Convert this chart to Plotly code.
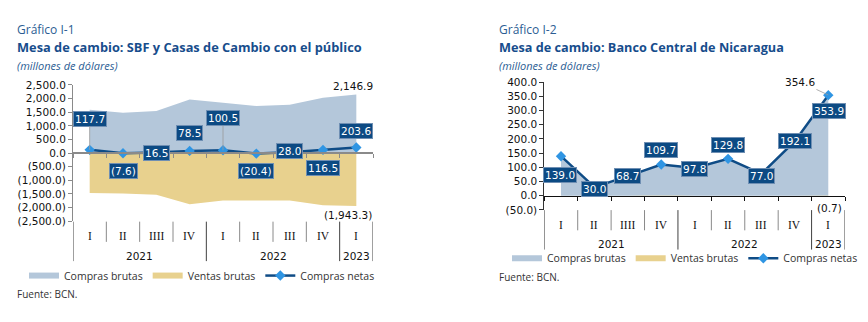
import plotly.graph_objects as go

# ---------------- data ----------------
quarters = ["I", "II", "IIII", "IV", "I", "II", "III", "IV", "I"]
years = ["2021", "2021", "2021", "2021", "2022", "2022", "2022", "2022", "2023"]

left_compras = [1585.0, 1478.0, 1545.0, 1962.0, 1846.0, 1725.0, 1770.0, 2030.0, 2146.9]
left_ventas = [-1467.3, -1485.6, -1528.5, -1883.5, -1745.5, -1745.4, -1742.0, -1913.5, -1943.3]
left_netas = [117.7, -7.6, 16.5, 78.5, 100.5, -20.4, 28.0, 116.5, 203.6]

right_compras = [139.0, 30.0, 68.7, 111.7, 97.8, 129.8, 77.0, 192.1, 354.6]
right_ventas = [0.0, 0.0, 0.0, -2.0, 0.0, 0.0, 0.0, 0.0, -0.7]
right_netas = [139.0, 30.0, 68.7, 109.7, 97.8, 129.8, 77.0, 192.1, 353.9]

left_yticks = [2500, 2000, 1500, 1000, 500, 0, -500, -1000, -1500, -2000, -2500]
right_yticks = [400, 350, 300, 250, 200, 150, 100, 50, 0, -50]

# ---------------- styling / layout constants ----------------
W, H = 868, 322
C_COMPRAS = "#b4c7da"
C_VENTAS = "#e8d18e"
C_LINE = "#0f4c86"
C_MARK = "#2f95e3"
C_BOX = "#0c4a83"
C_TITLE = "#174d8c"
NUM_FONT = "DejaVu Sans"
TXT_FONT = "Open Sans"

# label offsets in px (dx, dy up-positive) and leader-line flags
left_lbl = [(0, 31, True), (0, -18, False), (0, 0, False), (0, 18, False), (0, 32, True),
            (0, -17, False), (0, 1, False), (0, -18, False), (0, 17, False)]
right_lbl = [(-1, -19, False), (0, -2, False), (0, 0, False), (0, 15, False), (0, -1, False),
             (0, 14, False), (0, -2, False), (0, 0, False), (1, -16, False)]


def py(pix):
    return 1 - pix / H


def fmt(v, dec=1):
    s = f"{abs(v):,.{dec}f}"
    return f"({s})" if v < 0 else s


xpos = list(range(len(quarters)))
bounds = [i - 0.5 for i in range(len(quarters) + 1)]

fig = go.Figure()

panels = [
    dict(xa="x", ya="y", comp=left_compras, vent=left_ventas, net=left_netas, leg="legend"),
    dict(xa="x2", ya="y2", comp=right_compras, vent=right_ventas, net=right_netas, leg="legend2"),
]
for p in panels:
    fig.add_trace(go.Scatter(x=xpos, y=p["comp"], name="Compras brutas", mode="none",
                             fill="tozeroy", fillcolor=C_COMPRAS, xaxis=p["xa"], yaxis=p["ya"],
                             legend=p["leg"], hoverinfo="skip"))
    fig.add_trace(go.Scatter(x=xpos, y=p["vent"], name="Ventas brutas", mode="none",
                             fill="tozeroy", fillcolor=C_VENTAS, xaxis=p["xa"], yaxis=p["ya"],
                             legend=p["leg"], hoverinfo="skip"))
    fig.add_trace(go.Scatter(x=xpos, y=p["net"], name="Compras netas", mode="lines+markers",
                             line=dict(color=C_LINE, width=2.5),
                             marker=dict(symbol="diamond", size=8, color=C_MARK),
                             xaxis=p["xa"], yaxis=p["ya"], legend=p["leg"]))

annotations = []


def data_labels(xref, yref, vals, offs):
    for i, (v, (dx, dy, lead)) in enumerate(zip(vals, offs)):
        a = dict(x=xpos[i], y=v, xref=xref, yref=yref, text=fmt(v),
                 font=dict(family=NUM_FONT, size=10.5, color="white"),
                 bgcolor=C_BOX, bordercolor="#6f8fb3", borderwidth=1, borderpad=1)
        if lead:
            a.update(showarrow=True, arrowhead=0, arrowwidth=0.8, arrowcolor="#9a9a9a",
                     ax=dx, ay=-dy)
        else:
            a.update(showarrow=False, xshift=dx, yshift=dy)
        annotations.append(a)


data_labels("x", "y", left_netas, left_lbl)
data_labels("x2", "y2", right_netas, right_lbl)

plain = dict(font=dict(family=NUM_FONT, size=10.5, color="#111"))
annotations += [
    dict(x=xpos[-1], y=left_compras[-1], xref="x", yref="y", text=fmt(left_compras[-1]),
         showarrow=False, xshift=-3, yshift=9, **plain),
    dict(x=xpos[-1], y=left_ventas[-1], xref="x", yref="y", text=fmt(left_ventas[-1]),
         showarrow=False, xshift=-8, yshift=-9, **plain),
    dict(x=xpos[-1], y=right_compras[-1], xref="x2", yref="y2", text=fmt(right_compras[-1]),
         showarrow=True, arrowhead=0, arrowwidth=0.8, arrowcolor="#9a9a9a", ax=-28, ay=-13,
         **plain),
    dict(x=xpos[-1], y=right_ventas[-1], xref="x2", yref="y2", text=fmt(right_ventas[-1]),
         showarrow=False, xshift=1, yshift=-12, **plain),
]

shapes = []


def category_axis(xref, top, qy, yy, qbot, ybot):
    for i, q in enumerate(quarters):
        annotations.append(dict(x=xpos[i], y=py(qy), xref=xref, yref="paper", text=q,
                                showarrow=False, yanchor="middle",
                                font=dict(family="Liberation Serif", size=11.5, color="#111")))
    groups = {}
    for i, yv in enumerate(years):
        groups.setdefault(yv, []).append(xpos[i])
    for yv, xs in groups.items():
        annotations.append(dict(x=sum(xs) / len(xs), y=py(yy), xref=xref, yref="paper",
                                text=yv, showarrow=False, yanchor="middle",
                                font=dict(family=NUM_FONT, size=10.5, color="#111")))
    for k, b in enumerate(bounds):
        is_year = k == 0 or k == len(quarters) or years[k - 1] != years[k]
        shapes.append(dict(type="line", xref=xref, yref="paper", x0=b, x1=b,
                           y0=py(top), y1=py(ybot if is_year else qbot),
                           line=dict(color="#404040" if is_year else "#8a8a8a", width=1)))


category_axis("x", 224, 239, 260, 245, 265)
category_axis("x2", 212, 227, 247, 233, 253)


def title_block(x_px, num, title, tsize, fuente_y):
    annotations.extend([
        dict(x=x_px / W, y=py(24.5), xref="paper", yref="paper", text=num, showarrow=False,
             xanchor="left", yanchor="middle",
             font=dict(family=TXT_FONT, size=12, color="#2b5d93")),
        dict(x=x_px / W, y=py(42.5), xref="paper", yref="paper", text=title,
             showarrow=False, xanchor="left", yanchor="middle",
             font=dict(family=TXT_FONT, size=tsize, color=C_TITLE, weight=700)),
        dict(x=x_px / W, y=py(62), xref="paper", yref="paper",
             text="<i>(millones de dólares)</i>", showarrow=False, xanchor="left",
             yanchor="middle", font=dict(family=TXT_FONT, size=11, color="#2b5d93")),
        dict(x=x_px / W, y=py(fuente_y), xref="paper", yref="paper", text="Fuente: BCN.",
             showarrow=False, xanchor="left", yanchor="middle",
             font=dict(family=TXT_FONT, size=10, color="#333")),
    ])


title_block(15, "Gráfico I-1", "Mesa de cambio: SBF y Casas de Cambio con el público", 12.8, 299)
title_block(497, "Gráfico I-2", "Mesa de cambio: Banco Central de Nicaragua", 12.7, 281)

tickfont = dict(family=NUM_FONT, size=10.5, color="#111")


def xaxis(x0, x1, zero_pos, lcolor, lwidth):
    return dict(domain=[x0 / W, x1 / W], range=[-0.5, len(quarters) - 0.5], anchor="free",
                position=zero_pos, tickvals=bounds, ticks="outside", ticklen=4,
                tickcolor=lcolor, tickwidth=1, showticklabels=False, showline=True,
                linecolor=lcolor, linewidth=lwidth, showgrid=False, zeroline=False,
                fixedrange=True)


def yaxis(top_px, bot_px, rng, ticks, anchor, lcolor):
    return dict(domain=[py(bot_px), py(top_px)], range=rng, tickvals=ticks,
                ticktext=[fmt(t) for t in ticks], ticks="outside", ticklen=4,
                tickcolor=lcolor, showline=True, linecolor=lcolor, linewidth=1,
                showgrid=False, zeroline=False, tickfont=tickfont, anchor=anchor,
                fixedrange=True)


l_top, l_bot = 82, 223.5
r_top, r_bot = 79, 211.8
l_zero = py(l_top + (l_bot - l_top) * 2500 / 5000)
r_zero = py(r_top + (r_bot - r_top) * 400 / 450)

legend_common = dict(orientation="h", yanchor="middle", xanchor="left",
                     font=dict(family=TXT_FONT, size=10.5, color="#333"),
                     bgcolor="rgba(0,0,0,0)", itemclick=False, itemdoubleclick=False,
                     tracegroupgap=0)

fig.update_layout(
    width=W, height=H, margin=dict(l=0, r=0, t=0, b=0),
    paper_bgcolor="white", plot_bgcolor="white",
    xaxis=xaxis(73, 373, l_zero, "#8a8a8a", 2),
    yaxis=yaxis(l_top, l_bot, [-2500, 2500], left_yticks, "x", "#8a8a8a"),
    xaxis2=xaxis(544.3, 845, r_zero, "#111", 1),
    yaxis2=yaxis(r_top, r_bot, [-50, 400], right_yticks, "x2", "#333"),
    legend=dict(x=24 / W, y=py(280), **legend_common),
    legend2=dict(x=507 / W, y=py(262), **legend_common),
    annotations=annotations, shapes=shapes, showlegend=True,
)

fig.write_html("out.html")
